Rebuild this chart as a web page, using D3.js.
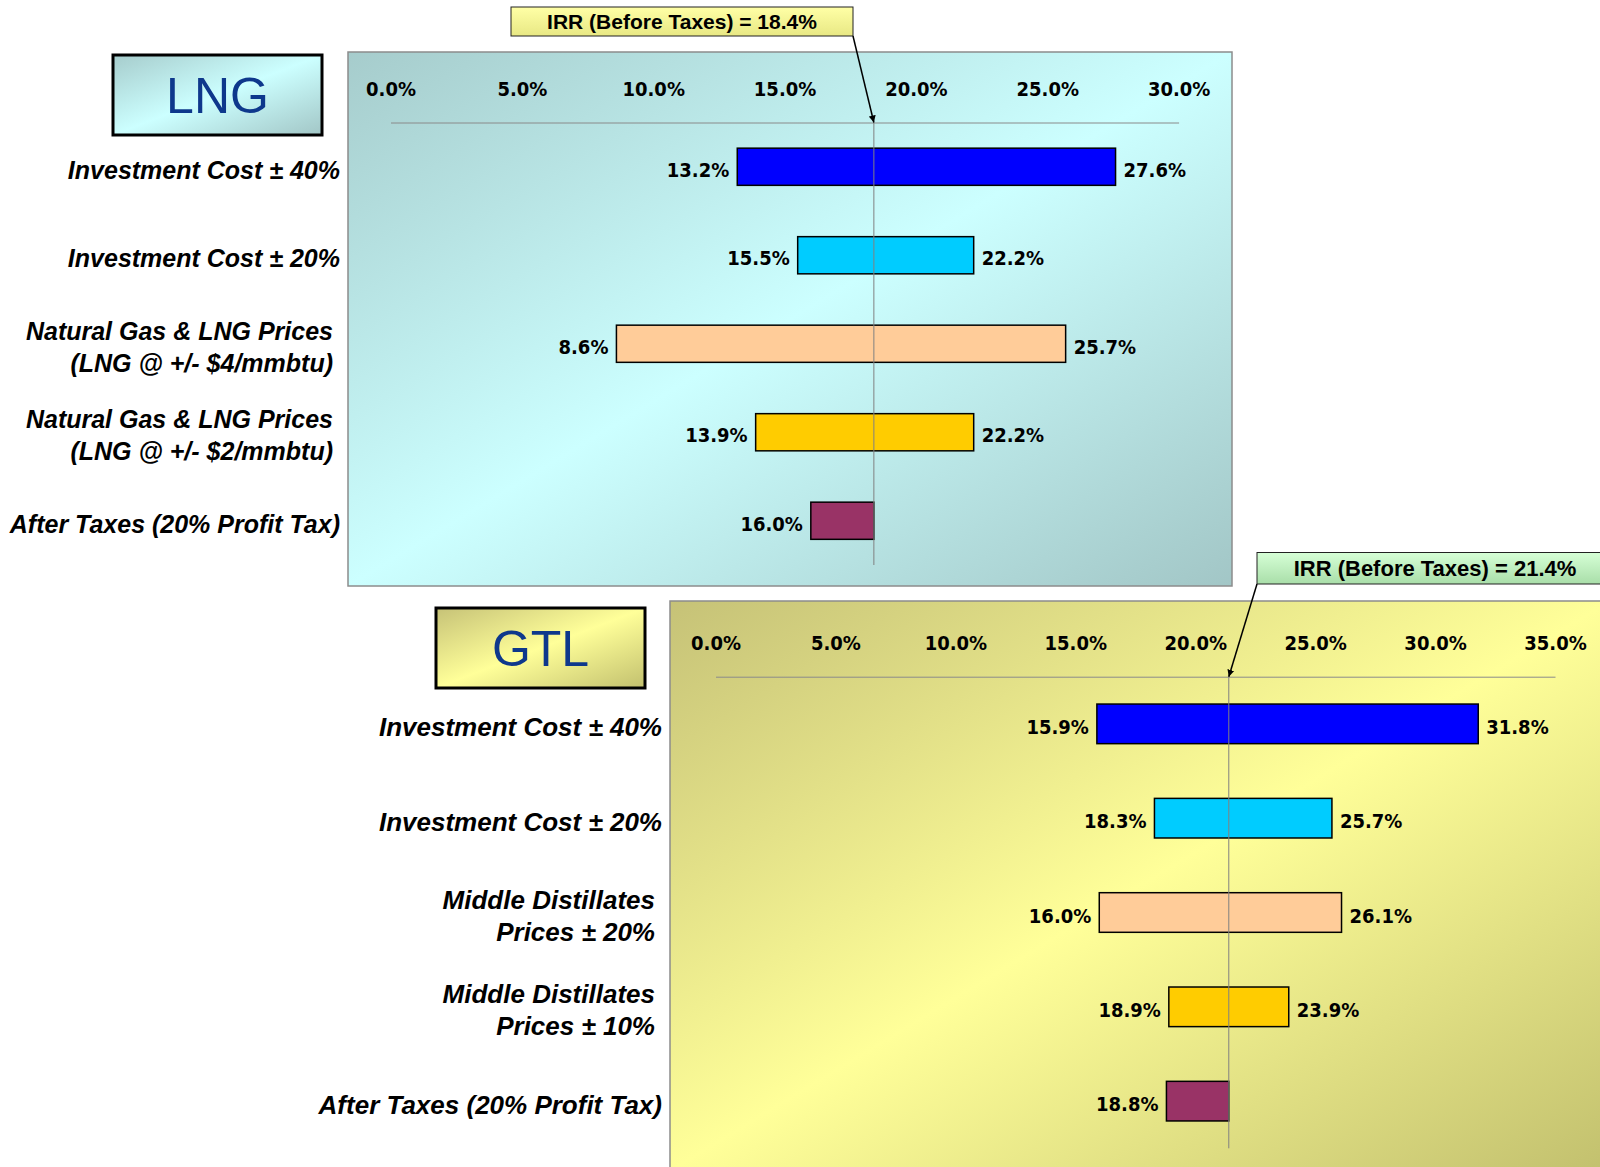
<!DOCTYPE html>
<html>
<head>
<meta charset="utf-8">
<script src="https://cdn.jsdelivr.net/npm/d3@7"></script>
<style>
body { margin: 0; background: #fff; }
</style>
</head>
<body>
<div id="chart"></div>
<script>
// ---- data ----
var lngCategories = [
    ['Investment Cost \u00b1 40%'],
    ['Investment Cost \u00b1 20%'],
    ['Natural Gas & LNG Prices', '(LNG  @ +/- $4/mmbtu)'],
    ['Natural Gas & LNG Prices', '(LNG @ +/- $2/mmbtu)'],
    ['After Taxes (20% Profit Tax)']
];
var lngLow = [13.2, 15.5, 8.6, 13.9, 16.0];
var lngHigh = [27.6, 22.2, 25.7, 22.2, null];
var lngBase = 18.4;
var lngTicks = [0, 5, 10, 15, 20, 25, 30];

var gtlCategories = [
    ['Investment Cost \u00b1 40%'],
    ['Investment Cost \u00b1 20%'],
    ['Middle Distillates', 'Prices \u00b1 20%'],
    ['Middle Distillates', 'Prices \u00b1 10%'],
    ['After Taxes (20% Profit Tax)']
];
var gtlLow = [15.9, 18.3, 16.0, 18.9, 18.8];
var gtlHigh = [31.8, 25.7, 26.1, 23.9, null];
var gtlBase = 21.4;
var gtlTicks = [0, 5, 10, 15, 20, 25, 30, 35];

var barColors = ['#0000ff', '#00ccff', '#ffcc99', '#ffcc00', '#993366'];

var pct = d3.format('.1f');
var numFont = "'DejaVu Sans Condensed', 'DejaVu Sans', Verdana, sans-serif";

var svg = d3.select('#chart').append('svg')
    .attr('width', 1600)
    .attr('height', 1167)
    .style('display', 'block');

var defs = svg.append('defs');

function diagGradient(id, c0, c1, c2) {
    var g = defs.append('linearGradient').attr('id', id)
        .attr('x1', 0).attr('y1', 0).attr('x2', 1).attr('y2', 1);
    g.append('stop').attr('offset', '0%').attr('stop-color', c0);
    g.append('stop').attr('offset', '50%').attr('stop-color', c1);
    g.append('stop').attr('offset', '100%').attr('stop-color', c2);
}

function vertGradient(id, c0, c1) {
    var g = defs.append('linearGradient').attr('id', id)
        .attr('x1', 0).attr('y1', 0).attr('x2', 0).attr('y2', 1);
    g.append('stop').attr('offset', '0%').attr('stop-color', c0);
    g.append('stop').attr('offset', '100%').attr('stop-color', c1);
}

diagGradient('lngBg', '#a6cccc', '#ccffff', '#a2c6c6');
diagGradient('gtlBg', '#c6c277', '#ffff99', '#c2c06e');
vertGradient('lngIrr', '#ffffa6', '#e8e884');
vertGradient('gtlIrr', '#d6ffd6', '#a9dea9');

defs.append('marker')
    .attr('id', 'arrow')
    .attr('viewBox', '0 0 10 10')
    .attr('refX', 10).attr('refY', 5)
    .attr('markerWidth', 7).attr('markerHeight', 8)
    .attr('markerUnits', 'userSpaceOnUse')
    .attr('orient', 'auto')
    .append('path')
    .attr('d', 'M0,0 L10,5 L0,10 Z')
    .attr('fill', '#000');

function drawPanel(o) {
    var g = svg.append('g');

    // background panel
    g.append('rect')
        .attr('x', o.panel[0]).attr('y', o.panel[1])
        .attr('width', o.panel[2]).attr('height', o.panel[3])
        .attr('fill', 'url(#' + o.bg + ')')
        .attr('stroke', '#8c8c8c')
        .attr('stroke-width', 1.5);

    // title box
    g.append('rect')
        .attr('x', o.title[0]).attr('y', o.title[1])
        .attr('width', o.title[2]).attr('height', o.title[3])
        .attr('fill', 'url(#' + o.bg + ')')
        .attr('stroke', '#000')
        .attr('stroke-width', 3);
    g.append('text')
        .attr('x', o.title[0] + o.title[2] / 2)
        .attr('y', o.title[1] + o.title[3] / 2 + 18)
        .attr('text-anchor', 'middle')
        .style('font-family', 'Liberation Sans, Arial, sans-serif')
        .style('font-size', '50px')
        .style('fill', '#0e388c')
        .text(o.name);

    var x = d3.scaleLinear()
        .domain([0, o.ticks[o.ticks.length - 1]])
        .range(o.xRange);
    var y = d3.scaleBand()
        .domain(d3.range(o.categories.length))
        .range(o.yRange)
        .paddingInner(0.58)
        .paddingOuter(0.29);

    // top axis
    var axis = g.append('g')
        .attr('transform', 'translate(0,' + o.yRange[0] + ')')
        .call(d3.axisTop(x).tickValues(o.ticks).tickSize(0).tickPadding(27)
            .tickFormat(function (d) { return pct(d) + '%'; }));
    axis.select('.domain').attr('stroke', '#8a8a8a').attr('stroke-width', 1);
    axis.selectAll('text')
        .style('font-family', numFont)
        .style('font-stretch', 'condensed')
        .style('font-weight', 'bold')
        .style('font-size', '20px')
        .style('fill', '#000');

    var rows = o.categories.map(function (c, i) {
        return { i: i, lines: c, low: o.low[i], high: o.high[i] == null ? o.base : o.high[i], hasHigh: o.high[i] != null };
    });

    // bars
    g.selectAll('rect.bar').data(rows).enter().append('rect')
        .attr('class', 'bar')
        .attr('x', function (d) { return x(d.low); })
        .attr('y', function (d) { return y(d.i); })
        .attr('width', function (d) { return x(d.high) - x(d.low); })
        .attr('height', y.bandwidth())
        .attr('fill', function (d) { return barColors[d.i]; })
        .attr('stroke', '#000')
        .attr('stroke-width', 1.5);

    var valStyle = function (sel) {
        sel.style('font-family', numFont)
            .style('font-stretch', 'condensed')
            .style('font-weight', 'bold')
            .style('font-size', '20px')
            .style('fill', '#000');
    };

    g.selectAll('text.lowLbl').data(rows).enter().append('text')
        .attr('class', 'lowLbl')
        .attr('x', function (d) { return x(d.low) - 8; })
        .attr('y', function (d) { return y(d.i) + y.bandwidth() / 2 + 10; })
        .attr('text-anchor', 'end')
        .text(function (d) { return pct(d.low) + '%'; })
        .call(valStyle);

    g.selectAll('text.highLbl').data(rows.filter(function (d) { return d.hasHigh; })).enter().append('text')
        .attr('class', 'highLbl')
        .attr('x', function (d) { return x(d.high) + 8; })
        .attr('y', function (d) { return y(d.i) + y.bandwidth() / 2 + 10; })
        .attr('text-anchor', 'start')
        .text(function (d) { return pct(d.high) + '%'; })
        .call(valStyle);

    // category labels
    var lineGap = 32;
    var cats = g.selectAll('text.cat').data(rows).enter().append('text')
        .attr('class', 'cat')
        .attr('text-anchor', 'end')
        .style('font-family', 'Liberation Sans, Arial, sans-serif')
        .style('font-weight', 'bold')
        .style('font-style', 'italic')
        .style('font-size', o.catSize + 'px')
        .style('fill', '#000');
    cats.each(function (d) {
        var t = d3.select(this);
        var cy = y(d.i) + y.bandwidth() / 2 + 3;
        var first = cy - (d.lines.length - 1) * lineGap / 2 + o.catSize * 0.36;
        var xr = o.panel[0] - (d.lines.length > 1 ? 15 : 8);
        d.lines.forEach(function (line, k) {
            t.append('tspan')
                .attr('x', xr)
                .attr('y', first + k * lineGap)
                .text(line);
        });
    });

    // base IRR line
    g.append('line')
        .attr('x1', x(o.base)).attr('x2', x(o.base))
        .attr('y1', o.yRange[0]).attr('y2', o.yRange[1])
        .attr('stroke', '#808080')
        .attr('stroke-width', 1);

    // IRR callout
    g.append('rect')
        .attr('x', o.irr[0]).attr('y', o.irr[1])
        .attr('width', o.irr[2]).attr('height', o.irr[3])
        .attr('fill', 'url(#' + o.irrFill + ')')
        .attr('stroke', '#222')
        .attr('stroke-width', 1);
    g.append('text')
        .attr('x', o.irr[0] + o.irr[2] / 2)
        .attr('y', o.irr[1] + o.irr[3] / 2 + o.irrSize * 0.36)
        .attr('text-anchor', 'middle')
        .style('font-family', 'Liberation Sans, Arial, sans-serif')
        .style('font-weight', 'bold')
        .style('font-size', o.irrSize + 'px')
        .style('fill', '#000')
        .text('IRR (Before Taxes) = ' + pct(o.base) + '%');
    g.append('line')
        .attr('x1', o.arrowFrom[0]).attr('y1', o.arrowFrom[1])
        .attr('x2', x(o.base)).attr('y2', o.yRange[0])
        .attr('stroke', '#000')
        .attr('stroke-width', 1.5)
        .attr('marker-end', 'url(#arrow)');
}

drawPanel({
    name: 'LNG',
    categories: lngCategories, low: lngLow, high: lngHigh, base: lngBase, ticks: lngTicks,
    bg: 'lngBg', irrFill: 'lngIrr',
    panel: [348, 52, 884, 534],
    title: [113, 55, 209, 80],
    xRange: [390.5, 1178.6],
    yRange: [122.5, 565],
    irr: [511, 7, 342, 29], irrSize: 21,
    arrowFrom: [853, 36],
    catSize: 25
});

drawPanel({
    name: 'GTL',
    categories: gtlCategories, low: gtlLow, high: gtlHigh, base: gtlBase, ticks: gtlTicks,
    bg: 'gtlBg', irrFill: 'gtlIrr',
    panel: [670, 601, 940, 570],
    title: [436, 608, 209, 80],
    xRange: [715.5, 1555],
    yRange: [676.7, 1148.3],
    irr: [1257, 552.5, 356, 31.5], irrSize: 22,
    arrowFrom: [1257, 584],
    catSize: 26
});
</script>
</body>
</html>
